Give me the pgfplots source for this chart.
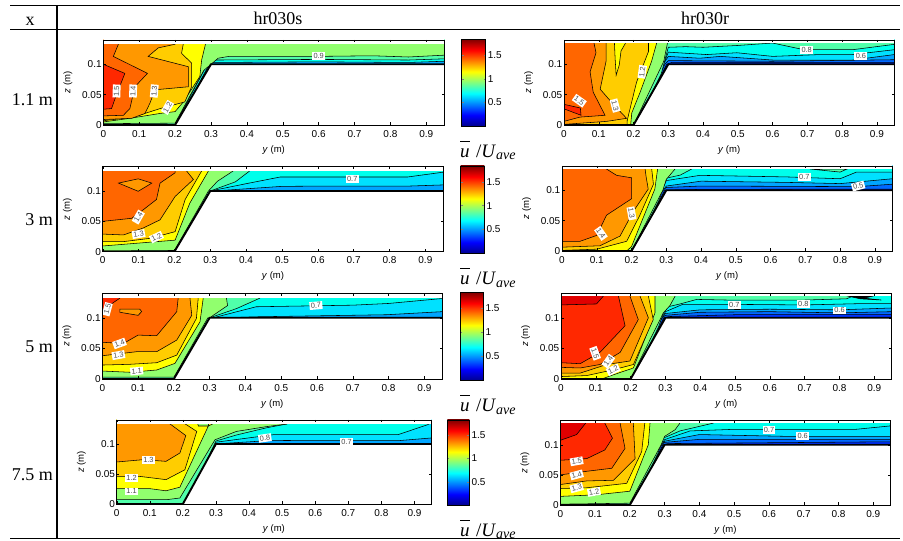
\documentclass[border=0pt]{standalone}
\usepackage{fontspec}
\usepackage{pgfplots}
\pgfplotsset{compat=1.18}
\setmainfont{Liberation Sans}
\newfontfamily\serif{Liberation Serif}
\definecolor{DR}{RGB}{225,0,0}
\definecolor{RD}{RGB}{255,40,0}
\definecolor{R2}{RGB}{255,102,0}
\definecolor{R3}{RGB}{255,152,0}
\definecolor{R4}{RGB}{255,205,0}
\definecolor{YL}{RGB}{255,255,0}
\definecolor{LG}{RGB}{145,255,110}
\definecolor{TG}{RGB}{80,255,170}
\definecolor{CY}{RGB}{0,255,235}
\definecolor{B1}{RGB}{0,225,255}
\definecolor{B2}{RGB}{0,165,255}
\definecolor{B3}{RGB}{0,105,255}
\definecolor{B4}{RGB}{0,50,255}
\definecolor{ja}{rgb}{0,0,0.5625}
\definecolor{jb}{rgb}{0,0,1}
\definecolor{jc}{rgb}{0,1,1}
\definecolor{jd}{rgb}{1,1,0}
\definecolor{je}{rgb}{1,0,0}
\definecolor{jf}{rgb}{0.5,0,0}
\pgfdeclareverticalshading{jetbar}{100bp}{
 color(0bp)=(ja);
 color(25bp)=(ja);
 color(31.25bp)=(jb);
 color(43.75bp)=(jc);
 color(56.25bp)=(jd);
 color(68.75bp)=(je);
 color(75bp)=(jf);
 color(100bp)=(jf)}
\pgfplotsset{
 pane/.style={scale only axis,anchor=south west,xmin=0,xmax=0.95,ymin=0,ymax=0.14,
  xtick={0,0.1,0.2,0.3,0.4,0.5,0.6,0.7,0.8,0.9},
  xticklabels={0,0.1,0.2,0.3,0.4,0.5,0.6,0.7,0.8,0.9},
  ytick={0,0.05,0.1},yticklabels={0,0.05,0.1},
  tick align=inside,major tick length=2.5pt,tick style={black,line width=.4pt},
  axis line style={line width=.6pt},axis on top,no markers,
  ticklabel style={font=\fontsize{10}{10}\selectfont},
  x tick label style={inner sep=1.5pt,yshift=-3.5pt},
  y tick label style={inner sep=1.5pt},
  xlabel={\textit{y} (m)},ylabel={\textit{z} (m)},
  label style={font=\fontsize{9.5}{10}\selectfont},
  xlabel style={at={(axis description cs:0.5,0)},yshift=-19pt,inner sep=1pt},
  ylabel style={inner sep=1pt},ylabel shift=7pt},
 cbar/.style={scale only axis,anchor=south west,xmin=0,xmax=1,ymin=0,ymax=1.83,
  xtick=\empty,ytick={0.5,1,1.5},yticklabels={0.5,1,1.5},yticklabel pos=right,
  tick align=inside,major tick length=2pt,axis line style={line width=.6pt},axis on top,
  ticklabel style={font=\fontsize{10}{10}\selectfont,inner sep=2pt}}}
\newcommand{\lv}[2]{\addplot[fill=#1,draw=black,line width=.55pt,forget plot] coordinates {#2} --cycle;}
\newcommand{\fin}[1]{%
 \addplot[fill=white,draw=none,forget plot] coordinates {(-.05,#1)(1,#1)(1,.2)(-.05,.2)} --cycle;
 \addplot[fill=white,draw=none,forget plot] coordinates {(.2,-.02)(.2,0)(.3,.1)(1,.1)(1,-.02)} --cycle;
 \addplot[black,line width=1.9pt,line join=miter,forget plot] coordinates {(-.05,0)(.2,0)(.3,.1)(1,.1)};}
\newcommand{\lab}[4]{\node[fill=white,inner sep=1.3pt,rotate=#3,text=black!70,font=\fontsize{7.4}{8}\selectfont] at (axis cs:#1,#2){#4};}
\newcommand{\cbarr}[5]{\begin{axis}[cbar,at={(#1pt,#2pt)},width=#3pt,height=#4pt]
 \path[shading=jetbar] (axis cs:0,0) rectangle (axis cs:1,1.83);
 \end{axis}
 \node[anchor=west,inner sep=0pt,font=\serif\fontsize{19}{20}\selectfont] at (#5pt,#2pt-24pt)
  {$\overline{\rule{0pt}{15pt}\mbox{\textit{u}}}$\,\,/\textit{U}$_{\mbox{\serif\fontsize{14}{14}\selectfont\textit{ave}}}$};}
\begin{document}
\begin{tikzpicture}
\path[use as bounding box] (0,0) rectangle (903pt,541pt);
% table rules
\draw[line width=1pt] (10pt,535pt)--(900pt,535pt);
\draw[line width=1pt] (10pt,511.3pt)--(900pt,511.3pt);
\draw[line width=1.2pt] (10pt,2.7pt)--(900pt,2.7pt);
\draw[line width=1.7pt] (57pt,535.5pt)--(57pt,2.7pt);
\begin{scope}[serif/.style={font=\serif\fontsize{18}{20}\selectfont,inner sep=0pt}]
\node[serif] at (30pt,520pt) {x};
\node[serif] at (278pt,523pt) {hr030s};
\node[serif] at (705pt,523pt) {hr030r};
\node[serif,anchor=east] at (53pt,441pt) {1.1 m};
\node[serif,anchor=east] at (53pt,321pt) {3 m};
\node[serif,anchor=east] at (53pt,194pt) {5 m};
\node[serif,anchor=east] at (53pt,66pt) {7.5 m};
\end{scope}
% ===== A
\begin{axis}[pane,at={(103.3pt,416pt)},width=341pt,height=85pt]
\lv{B2}{(-.05,-.01)(.2,-.01)(1,-.01)(1,.2)(-.05,.2)}
\lv{CY}{(-.05,-.01)(.2,-.01)(.205,0)(.295,.1)(.3,.103)(.6,.104)(.85,.103)(.95,.105)(1,.105)(1,.2)(-.05,.2)}
\lv{TG}{(-.05,-.01)(.2,-.01)(.2,.001)(.29,.1)(.31,.107)(.6,.108)(.85,.107)(.95,.109)(1,.109)(1,.2)(-.05,.2)}
\lv{LG}{(-.05,.002)(.2,.003)(.28,.09)(.32,.11)(.35,.113)(.6,.113)(.75,.114)(.85,.112)(.95,.115)(1,.115)(1,.2)(-.05,.2)}
\lv{YL}{(.285,.2)(.285,.134)(.274,.107)(.269,.08)(.223,.038)(.2,.022)(.158,.019)(.074,.011)(0,.005)(-.05,.005)(-.05,.2)}
\lv{R4}{(.223,.2)(.223,.134)(.218,.118)(.246,.102)(.246,.063)(.227,.038)(.158,.027)(.084,.013)(0,.007)(-.05,.007)(-.05,.2)}
\lv{R3}{(.2,.2)(.2,.133)(.153,.127)(.125,.113)(.237,.096)(.237,.063)(.144,.058)(.13,.036)(.116,.019)(.079,.011)(0,.009)(-.05,.009)(-.05,.2)}
\lv{R2}{(.042,.2)(.042,.133)(.028,.113)(.123,.085)(.088,.063)(.074,.027)(.056,.016)(0,.015)(-.05,.015)(-.05,.2)}
\lv{RD}{(-.05,.1)(0,.1)(.06,.085)(.033,.044)(.023,.027)(0,.026)(-.05,.026)}
\fin{.1335}
\lab{.037}{.056}{88}{1.5}\lab{.083}{.056}{88}{1.4}\lab{.142}{.056}{85}{1.3}\lab{.179}{.029}{60}{1.2}\lab{.6}{.113}{0}{0.9}
\end{axis}
\cbarr{461.7}{415}{24}{86.7}{460}
% ===== B
\begin{axis}[pane,at={(564pt,416pt)},width=330.3pt,height=85pt]
\lv{B4}{(-.05,-.01)(1,-.01)(1,.2)(-.05,.2)}
\lv{B3}{(-.05,-.01)(.2,-.01)(.295,.1)(.31,.103)(.95,.103)(1,.103)(1,.2)(-.05,.2)}
\lv{B2}{(-.05,-.01)(.2,-.01)(.29,.1)(.3,.106)(.6,.105)(.95,.1075)(1,.1075)(1,.2)(-.05,.2)}
\lv{B1}{(-.05,-.01)(.2,-.01)(.285,.1)(.3,.113)(.39,.11)(.45,.113)(.6,.107)(.83,.107)(.95,.116)(1,.116)(1,.2)(-.05,.2)}
\lv{CY}{(-.05,-.01)(.2,-.01)(.28,.09)(.3,.12)(.41,.116)(.497,.119)(.6,.113)(.736,.116)(.83,.116)(.95,.124)(1,.124)(1,.2)(-.05,.2)}
\lv{TG}{(-.05,-.01)(.2,-.01)(.28,.085)(.3,.128)(.35,.129)(.4,.128)(.5,.131)(.6,.135)(.69,.124)(.83,.124)(.95,.1328)(1,.133)(1,.2)(-.05,.2)}
\lv{LG}{(-.05,-.01)(.2,-.01)(.2,0)(.287,.105)(.298,.136)(.3,.2)(-.05,.2)}
\lv{YL}{(.267,.2)(.267,.136)(.252,.105)(.219,.054)(.195,.02)(.19,-.01)(-.05,-.01)(-.05,.2)}
\lv{R4}{(.243,.2)(.243,.136)(.243,.121)(.209,.071)(.199,.048)(.182,.008)(.18,-.01)(-.05,-.01)(-.05,.2)}
\lv{YL}{(.145,.2)(.145,.136)(.147,.11)(.15,.082)(.159,.099)(.164,.122)(.178,.136)(.178,.2)}
\lv{R3}{(.121,.2)(.121,.136)(.121,.105)(.104,.059)(.142,.034)(.18,.011)(.123,.006)(0,.001)(-.05,.001)(-.05,.2)}
\lv{R2}{(.086,.2)(.086,.136)(.092,.119)(.075,.0876)(.084,.054)(.118,.016)(.046,.013)(0,.006)(-.05,.006)(-.05,.2)}
\lv{RD}{(-.05,.034)(0,.034)(.047,.028)(.049,.016)(0,.0266)(-.05,.0266)}
\fin{.1356}
\lab{.044}{.04}{-35}{1.5}\lab{.147}{.032}{-75}{1.3}\lab{.225}{.0876}{82}{1.2}\lab{.698}{.124}{0}{0.8}\lab{.854}{.113}{0}{0.6}
\end{axis}
% ===== C
\begin{axis}[pane,at={(102.7pt,289.3pt)},width=340.6pt,height=85pt]
\lv{B2}{(-.05,-.01)(1,-.01)(1,.2)(-.05,.2)}
\lv{B1}{(-.05,-.01)(.2,-.01)(.295,.095)(.31,.1)(.5,.1076)(.6,.108)(.85,.108)(.95,.11)(1,.11)(1,.2)(-.05,.2)}
\lv{CY}{(-.05,-.01)(.2,-.01)(.3,.1)(.4,.112)(.495,.123)(.85,.123)(.95,.131)(1,.132)(1,.2)(-.05,.2)}
\lv{TG}{(-.05,-.01)(.2,-.01)(.3,.1)(.37,.115)(.41,.133)(.41,.2)(-.05,.2)}
\lv{LG}{(-.05,.001)(.2,.002)(.295,.1)(.32,.116)(.364,.133)(.364,.2)(-.05,.2)}
\lv{YL}{(.295,.2)(.295,.133)(.243,.08)(.202,.019)(0,.0094)(-.05,.0094)(-.05,.2)}
\lv{R4}{(.276,.2)(.276,.133)(.23,.086)(.202,.033)(.132,.022)(.058,.0166)(0,.0166)(-.05,.0166)(-.05,.2)}
\lv{R3}{(.234,.2)(.234,.133)(.253,.119)(.202,.091)(.16,.0525)(.113,.039)(.058,.0276)(0,.029)(-.05,.029)(-.05,.2)}
\lv{R2}{(.202,.2)(.202,.13)(.16,.113)(.15,.086)(.113,.069)(.081,.055)(0,.05)(-.05,.05)(-.05,.2)}
\lv{R3}{(.044,.113)(.099,.12)(.137,.113)(.099,.0995)}
\fin{.133}
\lab{.0994}{.057}{60}{1.4}\lab{.1}{.029}{10}{1.3}\lab{.15}{.024}{25}{1.2}\lab{.696}{.12}{0}{0.7}
\end{axis}
\cbarr{460.7}{287.7}{23.6}{87.3}{460}
% ===== D
\begin{axis}[pane,at={(562pt,290pt)},width=330.3pt,height=85pt]
\lv{B4}{(-.05,-.01)(1,-.01)(1,.2)(-.05,.2)}
\lv{B3}{(-.05,-.01)(.2,-.01)(.295,.1)(.4,.1015)(.95,.102)(1,.102)(1,.2)(-.05,.2)}
\lv{B2}{(-.05,-.01)(.2,-.01)(.29,.1)(.3,.1046)(.4,.107)(.85,.106)(.95,.11)(1,.11)(1,.2)(-.05,.2)}
\lv{B1}{(-.05,-.01)(.2,-.01)(.285,.095)(.3,.107)(.4,.115)(.646,.113)(.8,.111)(.95,.119)(1,.119)(1,.2)(-.05,.2)}
\lv{CY}{(-.05,-.01)(.2,-.01)(.28,.09)(.3,.116)(.397,.1246)(.646,.122)(.8,.119)(.847,.13)(.95,.13)(1,.13)(1,.2)(-.05,.2)}
\lv{TG}{(-.05,-.01)(.2,-.01)(.28,.085)(.3,.12)(.34,.125)(.373,.135)(.373,.2)(-.05,.2)}
\lv{TG}{(.713,.135)(.82,.135)(.8,.13)}
\lv{LG}{(-.05,-.01)(.2,-.01)(.2,0)(.29,.1)(.3,.118)(.325,.135)(.325,.2)(-.05,.2)}
\lv{YL}{(.275,.2)(.275,.135)(.267,.102)(.2,.0074)(.167,-.01)(-.05,-.01)(-.05,.2)}
\lv{R4}{(.258,.2)(.258,.135)(.263,.11)(.224,.059)(.186,.016)(.1,.003)(0,.001)(-.05,.001)(-.05,.2)}
\lv{R3}{(.239,.2)(.239,.135)(.242,.122)(.248,.102)(.205,.065)(.167,.0246)(.109,.0086)(0,.0063)(-.05,.0063)(-.05,.2)}
\lv{R2}{(.128,.2)(.128,.135)(.157,.1246)(.2,.1206)(.2,.086)(.128,.059)(.1,.0257)(.052,.016)(0,.016)(-.05,.016)(-.05,.2)}
\fin{.135}
\lab{.112}{.029}{-55}{1.4}\lab{.2}{.062}{-80}{1.3}\lab{.697}{.122}{0}{0.7}\lab{.852}{.107}{15}{0.5}
\end{axis}
% ===== E
\begin{axis}[pane,at={(102.3pt,162pt)},width=340pt,height=85.7pt]
\lv{B2}{(-.05,-.01)(1,-.01)(1,.2)(-.05,.2)}
\lv{B1}{(-.05,-.01)(.2,-.01)(.3,.09)(.34,.1)(.43,.1016)(.795,.105)(.95,.11)(1,.11)(1,.2)(-.05,.2)}
\lv{CY}{(-.05,-.01)(.2,-.01)(.3,.09)(.31,.1)(.43,.118)(.7,.1206)(.8,.1234)(.95,.1315)(1,.132)(1,.2)(-.05,.2)}
\lv{TG}{(-.05,-.01)(.2,-.01)(.3,.1)(.375,.115)(.44,.132)(.44,.2)(-.05,.2)}
\lv{LG}{(-.05,.003)(.2,.003)(.295,.1)(.3,.1)(.35,.12)(.347,.132)(.347,.2)(-.05,.2)}
\lv{YL}{(.282,.2)(.282,.132)(.273,.0935)(.203,.0255)(.152,.0147)(.077,.011)(0,.013)(-.05,.013)(-.05,.2)}
\lv{R4}{(.268,.2)(.268,.132)(.263,.099)(.208,.039)(.152,.0266)(.077,.024)(0,.0228)(-.05,.0228)(-.05,.2)}
\lv{R3}{(.245,.2)(.245,.132)(.25,.104)(.208,.0636)(.152,.0446)(.096,.0446)(0,.038)(-.05,.038)(-.05,.2)}
\lv{R2}{(.212,.2)(.212,.132)(.208,.11)(.152,.0707)(.1,.0717)(.059,.058)(0,.06)(-.05,.06)(-.05,.2)}
\lv{R3}{(.049,.114)(.105,.114)(.11,.11)(.1,.104)(.049,.109)}
\lv{RD}{(-.05,.2)(.049,.2)(.049,.132)(0,.1125)(-.05,.1125)}
\fin{.132}
\lab{.014}{.114}{75}{1.5}\lab{.048}{.058}{20}{1.4}\lab{.045}{.039}{10}{1.3}\lab{.096}{.013}{5}{1.1}\lab{.597}{.12}{5}{0.7}
\end{axis}
\cbarr{460}{160.7}{23.3}{88}{460}
% ===== F
\begin{axis}[pane,at={(561pt,162pt)},width=330.7pt,height=85.7pt]
\lv{B4}{(-.05,-.01)(1,-.01)(1,.2)(-.05,.2)}
\lv{B3}{(-.05,-.01)(.2,-.01)(.295,.1)(.31,.102)(.5,.105)(.95,.105)(1,.105)(1,.2)(-.05,.2)}
\lv{B2}{(-.05,-.01)(.2,-.01)(.29,.1)(.3,.104)(.4,.109)(.6,.11)(.8,.108)(.95,.11)(1,.11)(1,.2)(-.05,.2)}
\lv{B1}{(-.05,-.01)(.2,-.01)(.285,.095)(.3,.107)(.4,.113)(.6,.114)(.8,.113)(.95,.116)(1,.116)(1,.2)(-.05,.2)}
\lv{CY}{(-.05,-.01)(.2,-.01)(.28,.09)(.3,.11)(.35,.122)(.476,.122)(.7,.121)(.85,.123)(.95,.123)(1,.123)(1,.2)(-.05,.2)}
\lv{TG}{(-.05,-.01)(.2,-.01)(.28,.085)(.3,.117)(.342,.1226)(.39,.13)(.476,.129)(.7,.129)(.82,.131)(.85,.138)(.85,.2)(-.05,.2)}
\lv{black}{(.82,.136)(.86,.131)(.92,.129)(.87,.132)(.9,.136)}
\lv{LG}{(-.05,-.01)(.2,-.01)(.2,0)(.294,.108)(.313,.12)(.328,.1356)(.328,.2)(-.05,.2)}
\lv{YL}{(.27,.2)(.27,.1356)(.27,.108)(.208,.018)(.15,.0068)(.069,-.01)(-.05,-.01)(-.05,.2)}
\lv{R4}{(.251,.2)(.251,.1356)(.265,.097)(.208,.0237)(.15,.015)(.074,.0056)(0,.004)(-.05,.004)(-.05,.2)}
\lv{R3}{(.227,.2)(.227,.1356)(.251,.1)(.198,.0294)(.131,.0237)(.055,.0096)(0,.0096)(-.05,.0096)(-.05,.2)}
\lv{R2}{(.198,.2)(.198,.1356)(.222,.097)(.17,.0435)(.112,.0237)(.055,.018)(0,.019)(-.05,.019)(-.05,.2)}
\lv{RD}{(.165,.2)(.165,.1356)(.184,.087)(.112,.0435)(.055,.025)(0,.0266)(-.05,.0266)(-.05,.2)}
\lv{DR}{(.122,.2)(.122,.1356)(.102,.1226)(0,.121)(-.05,.121)(-.05,.2)}
\fin{.1356}
\lab{.098}{.042}{-70}{1.5}\lab{.136}{.029}{55}{1.4}\lab{.15}{.015}{25}{1.2}\lab{.498}{.121}{0}{0.7}\lab{.696}{.1226}{0}{0.8}\lab{.8}{.112}{0}{0.6}
\end{axis}
% ===== G
\begin{axis}[pane,at={(116.7pt,37pt)},width=314.3pt,height=84pt]
\lv{B2}{(-.05,-.01)(1,-.01)(1,.2)(-.05,.2)}
\lv{B1}{(-.05,-.01)(.2,-.01)(.295,.1)(.47,.106)(.6,.1055)(.85,.1055)(.95,.11)(1,.11)(1,.2)(-.05,.2)}
\lv{CY}{(-.05,-.01)(.2,-.01)(.3,.103)(.473,.1155)(.85,.1155)(.94,.1322)(.95,.135)(1,.135)(1,.2)(-.05,.2)}
\lv{TG}{(-.05,-.01)(.2,-.01)(.3,.105)(.362,.115)(.453,.127)(.514,.1333)(.514,.2)(-.05,.2)}
\lv{LG}{(-.05,.0072)(.151,.0072)(.191,.01)(.297,.107)(.362,.121)(.453,.129)(.514,.1333)(.514,.2)(-.05,.2)}
\lv{YL}{(.29,.2)(.29,.1335)(.277,.13)(.247,.13)(.245,.1335)(.245,.2)(.19,.2)(-.05,.2)(-.05,.0256)(0,.0256)(.1,.0256)(.149,.022)(.191,.028)(.277,.13)}
\lv{R4}{(.207,.2)(.207,.1335)(.242,.121)(.206,.057)(.149,.0406)(.07,.046)(0,.046)(-.05,.046)(-.05,.2)}
\lv{R3}{(.161,.2)(.161,.1335)(.209,.114)(.191,.085)(.149,.0711)(.08,.0739)(0,.07)(-.05,.07)(-.05,.2)}
\fin{.1335}
\lab{.096}{.074}{0}{1.3}\lab{.045}{.043}{0}{1.2}\lab{.045}{.021}{0}{1.1}\lab{.448}{.11}{8}{0.8}\lab{.695}{.104}{0}{0.7}
\end{axis}
\cbarr{447.3}{36}{22}{85}{460}
% ===== H
\begin{axis}[pane,at={(560.3pt,36pt)},width=330.4pt,height=84.3pt]
\lv{B4}{(-.05,-.01)(1,-.01)(1,.2)(-.05,.2)}
\lv{B3}{(-.05,-.01)(.2,-.01)(.295,.1)(.31,.102)(.95,.105)(1,.105)(1,.2)(-.05,.2)}
\lv{B2}{(-.05,-.01)(.2,-.01)(.29,.1)(.3,.104)(.4,.109)(.95,.109)(1,.109)(1,.2)(-.05,.2)}
\lv{B1}{(-.05,-.01)(.2,-.01)(.285,.095)(.3,.106)(.4,.117)(.65,.114)(.95,.114)(1,.114)(1,.2)(-.05,.2)}
\lv{CY}{(-.05,-.01)(.2,-.01)(.28,.09)(.3,.1086)(.373,.123)(.5,.1257)(.85,.1257)(.95,.1314)(1,.132)(1,.2)(-.05,.2)}
\lv{TG}{(-.05,-.01)(.2,-.01)(.28,.085)(.296,.111)(.344,.123)(.44,.136)(.44,.2)(-.05,.2)}
\lv{LG}{(-.05,.001)(.2,.003)(.29,.1)(.3,.114)(.33,.125)(.344,.136)(.344,.2)(-.05,.2)}
\lv{YL}{(.258,.2)(.258,.136)(.253,.1)(.2,.0229)(.105,.017)(0,.0143)(-.05,.0143)(-.05,.2)}
\lv{R4}{(.243,.2)(.243,.136)(.234,.0886)(.191,.036)(.076,.0286)(0,.0274)(-.05,.0274)(-.05,.2)}
\lv{R3}{(.21,.2)(.21,.136)(.215,.077)(.153,.041)(.076,.04)(0,.034)(-.05,.034)(-.05,.2)}
\lv{R2}{(.172,.2)(.172,.136)(.186,.094)(.148,.061)(.076,.056)(0,.05)(-.05,.05)(-.05,.2)}
\lv{RD}{(.128,.2)(.128,.136)(.15,.111)(.128,.0914)(.076,.077)(0,.0743)(-.05,.0743)(-.05,.2)}
\lv{DR}{(.073,.2)(.073,.136)(.047,.117)(0,.1074)(-.05,.1074)(-.05,.2)}
\fin{.136}
\lab{.047}{.0726}{10}{1.5}\lab{.047}{.05}{15}{1.4}\lab{.047}{.0286}{15}{1.3}\lab{.097}{.0217}{10}{1.2}\lab{.6}{.1246}{0}{0.7}\lab{.697}{.114}{0}{0.6}
\end{axis}
\end{tikzpicture}
\end{document}
